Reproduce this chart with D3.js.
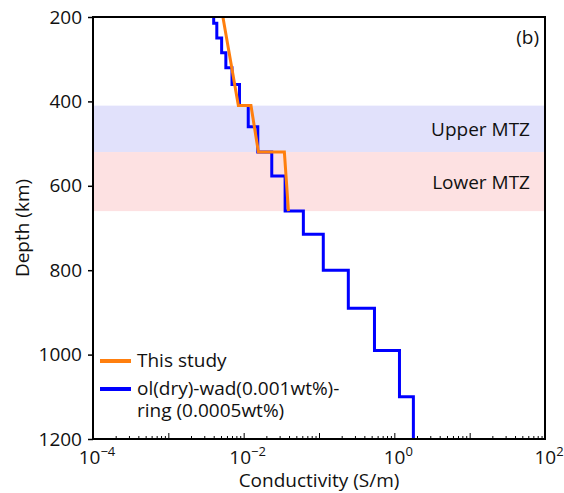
<!DOCTYPE html>
<html>
<head>
<meta charset="utf-8">
<script src="https://cdn.jsdelivr.net/npm/d3@7"></script>
<style>
  body { margin: 0; background: #fff; }
  text { font-family: "Open Sans", sans-serif; fill: #111; }
</style>
</head>
<body>
<script>
var w = 564;
var h = 493;
var margin = {top: 17, right: 19, bottom: 54, left: 93};
var fs = "19px";

// conductivity model, blue: layer tops (km) and sigma (S/m)
var blueTops = [200, 215, 250, 285, 320, 360, 410, 460, 520, 577, 660, 715, 800, 890, 990, 1100];
var blueBottom = 1200;
var blueSigma = [0.0040, 0.0044, 0.0051, 0.0058, 0.0070, 0.0088, 0.0115, 0.0154, 0.0236, 0.0355, 0.062, 0.114, 0.245, 0.545, 1.17, 1.79];

// this study, orange
var orangeDepth = [200, 410, 410, 520, 520, 660];
var orangeSigma = [0.0053, 0.0085, 0.0125, 0.0157, 0.0347, 0.0393];

var zones = [
  {name: "Upper MTZ", top: 410, bottom: 520, color: "#e1e1fb"},
  {name: "Lower MTZ", top: 520, bottom: 660, color: "#fde1e2"}
];

var xTicks = [-4, -2, 0, 2];
var yTicks = [200, 400, 600, 800, 1000, 1200];

var xScale = d3.scaleLog()
  .domain([1e-4, 1e2])
  .range([margin.left, w - margin.right]);

var yScale = d3.scaleLinear()
  .domain([200, 1200])
  .range([margin.top, h - margin.bottom]);

var svg = d3.select("body")
  .append("svg")
  .attr("width", w)
  .attr("height", h);

// MTZ bands
svg.selectAll("rect.zone")
  .data(zones)
  .enter()
  .append("rect")
  .attr("class", "zone")
  .attr("x", margin.left)
  .attr("width", w - margin.right - margin.left)
  .attr("y", function(d) { return yScale(d.top); })
  .attr("height", function(d) { return yScale(d.bottom) - yScale(d.top); })
  .attr("fill", function(d) { return d.color; });

svg.selectAll("text.zone")
  .data(zones)
  .enter()
  .append("text")
  .attr("class", "zone")
  .attr("x", 530)
  .attr("y", function(d) { return (yScale(d.top) + yScale(d.bottom)) / 2 + 7; })
  .attr("text-anchor", "end")
  .style("font-size", fs)
  .text(function(d) { return d.name; });

// blue staircase
var bluePts = [];
blueTops.forEach(function(t, i) {
  var bot = i < blueTops.length - 1 ? blueTops[i + 1] : blueBottom;
  bluePts.push([blueSigma[i], t]);
  bluePts.push([blueSigma[i], bot]);
});

var line = d3.line()
  .x(function(d) { return xScale(d[0]); })
  .y(function(d) { return yScale(d[1]); });

svg.append("path")
  .datum(bluePts)
  .attr("d", line)
  .attr("fill", "none")
  .attr("stroke", "#0000ff")
  .attr("stroke-width", 3);

var orangePts = orangeDepth.map(function(d, i) { return [orangeSigma[i], d]; });
svg.append("path")
  .datum(orangePts)
  .attr("d", line)
  .attr("fill", "none")
  .attr("stroke", "#ff7f0e")
  .attr("stroke-width", 3);

// x axis: ticks point inward
var minor = [];
for (var e = -4; e < 2; e++) {
  for (var k = 1; k < 10; k++) minor.push(k * Math.pow(10, e));
}
minor.push(100);
var xAxis = d3.axisBottom(xScale)
  .tickValues(minor)
  .tickSize(-3)
  .tickFormat("");
var gx = svg.append("g")
  .attr("transform", "translate(0," + (h - margin.bottom) + ")")
  .call(xAxis);
gx.select(".domain").remove();
gx.selectAll(".tick line")
  .attr("stroke-width", 1)
  .attr("y2", function(d) { return Math.abs(Math.log10(d) % 1) < 1e-9 ? -6 : -3; });

svg.selectAll("text.xlab")
  .data(xTicks)
  .enter()
  .append("text")
  .attr("class", "xlab")
  .attr("x", function(d) { return xScale(Math.pow(10, d)) + 4; })
  .attr("y", h - margin.bottom + 25)
  .attr("text-anchor", "middle")
  .style("font-size", fs)
  .each(function(d) {
    var t = d3.select(this);
    t.append("tspan").text("10");
    t.append("tspan")
      .attr("dy", -8)
      .style("font-size", "13px")
      .text(d < 0 ? "\u2212" + (-d) : "" + d);
  });

// y axis: ticks point outward
var yAxis = d3.axisLeft(yScale)
  .tickValues(yTicks)
  .tickSize(5)
  .tickPadding(6)
  .tickFormat(d3.format("d"));
var gy = svg.append("g")
  .attr("transform", "translate(" + margin.left + ",0)")
  .call(yAxis);
gy.select(".domain").remove();
gy.selectAll(".tick line").attr("stroke-width", 1.5);
gy.selectAll(".tick text")
  .style("font-size", fs)
  .style("font-family", "'Open Sans', sans-serif")
  .attr("fill", "#111");

// frame
svg.append("rect")
  .attr("x", margin.left)
  .attr("y", margin.top)
  .attr("width", w - margin.right - margin.left)
  .attr("height", h - margin.bottom - margin.top)
  .attr("fill", "none")
  .attr("stroke", "#000")
  .attr("stroke-width", 2);

// titles
svg.append("text")
  .attr("x", (margin.left + w - margin.right) / 2)
  .attr("y", 487)
  .attr("text-anchor", "middle")
  .style("font-size", fs)
  .text("Conductivity (S/m)");

svg.append("text")
  .attr("transform", "translate(29," + ((margin.top + h - margin.bottom) / 2) + ") rotate(-90)")
  .attr("text-anchor", "middle")
  .style("font-size", fs)
  .text("Depth (km)");

svg.append("text")
  .attr("x", 539)
  .attr("y", 44)
  .attr("text-anchor", "end")
  .style("font-size", fs)
  .text("(b)");

// legend
var legend = [
  {color: "#ff7f0e", lines: ["This study"]},
  {color: "#0000ff", lines: ["ol(dry)-wad(0.001wt%)-", "ring (0.0005wt%)"]}
];
var ly = [361, 389];
legend.forEach(function(d, i) {
  svg.append("line")
    .attr("x1", 100).attr("x2", 131)
    .attr("y1", ly[i]).attr("y2", ly[i])
    .attr("stroke", d.color)
    .attr("stroke-width", 4);
  var t = svg.append("text")
    .attr("x", 137)
    .attr("y", ly[i] + 6)
    .style("font-size", fs);
  d.lines.forEach(function(s, j) {
    t.append("tspan")
      .attr("x", 137)
      .attr("dy", j === 0 ? 0 : 22)
      .text(s);
  });
});
</script>
</body>
</html>
